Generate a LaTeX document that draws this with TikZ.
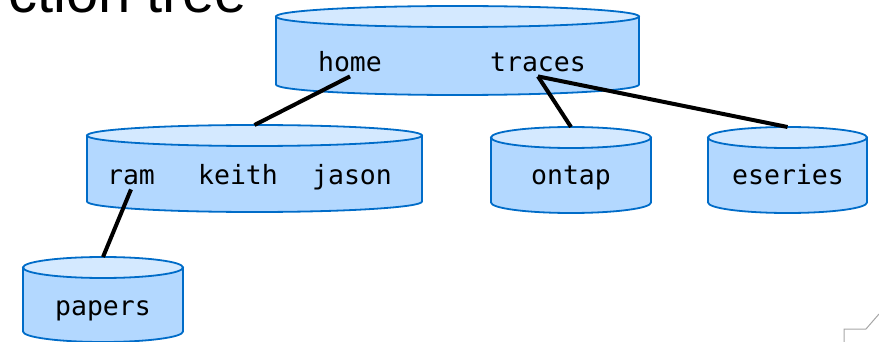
\documentclass[tikz,border=0pt]{standalone}
\usepackage{fontspec}
\setmainfont{Liberation Sans}
\setmonofont{DejaVu Sans Mono}

\definecolor{dirfill}{RGB}{179,216,255}
\definecolor{dirtop}{RGB}{212,233,255}
\definecolor{dirline}{RGB}{0,108,200}

\tikzset{
  dirnode/.style={rectangle, inner sep=0pt, outer sep=0pt},
  dirbody/.style={draw=dirline, fill=dirfill, line width=1.8pt},
  dirlid/.style={draw=dirline, fill=dirtop, line width=1.8pt},
  dirname/.style={font=\ttfamily\fontsize{26.5}{30}\selectfont, inner sep=2pt,
    text height=0.72em, text depth=0.22em, anchor=base},
  link/.style={line width=4pt, black}
}

% volume drawn as a cylinder: name, centre, half width, half height
\newcommand\dirvolume[4]{%
  \node[dirnode, minimum width=2*#3, minimum height=2*#4] (#1) at (#2) {};
  \path[dirbody] ([yshift=-10.5pt]#1.north west) -- ([yshift=10.5pt]#1.south west)
    arc[start angle=180, end angle=360, x radius=#3, y radius=10.5pt]
    -- ([yshift=-10.5pt]#1.north east) -- cycle;
  \path[dirlid] ([yshift=-10.5pt]#1.north) ellipse[x radius=#3, y radius=10.5pt];
}

\begin{document}
\begin{tikzpicture}[x=1pt, y=-1pt]
  \useasboundingbox (0,0) rectangle (879,342);

  % Heading, cut at the top edge
  \node[font=\fontsize{58}{60}\selectfont, anchor=base east, inner sep=0pt] (title) at (247,13) {ction tree};

  % Volumes
  \dirvolume{root}{457.5,50.5}{181.5pt}{44.5pt}
  \dirvolume{users}{254.5,168.5}{167.5pt}{43.5pt}
  \dirvolume{ontapvol}{571,170}{80pt}{43pt}
  \dirvolume{eseriesvol}{787.5,170}{79.5pt}{43pt}
  \dirvolume{papersvol}{103,299.5}{80pt}{42.5pt}

  % Directory names
  \node[dirname] (home) at (350,72) {home};
  \node[dirname] (traces) at (538,72) {traces};
  \node[dirname] (ram) at (131,185) {ram};
  \node[dirname] (keith) at (238,185) {keith};
  \node[dirname] (jason) at (352,185) {jason};
  \node[dirname] (ontap) at (571,185) {ontap};
  \node[dirname] (eseries) at (788,185) {eseries};
  \node[dirname] (papers) at (103,315) {papers};

  % Junctions
  \draw[link] (home.south) -- (users.north);
  \draw[link] (traces.south) -- (ontapvol.north);
  \draw[link] (traces.south) -- (eseriesvol.north);
  \draw[link] (ram.south) -- (papersvol.north);

  % page corner
  \draw[gray!70, line width=1pt] (844,342) -- (844,329) -- (866,329) -- (879,314);
\end{tikzpicture}
\end{document}
